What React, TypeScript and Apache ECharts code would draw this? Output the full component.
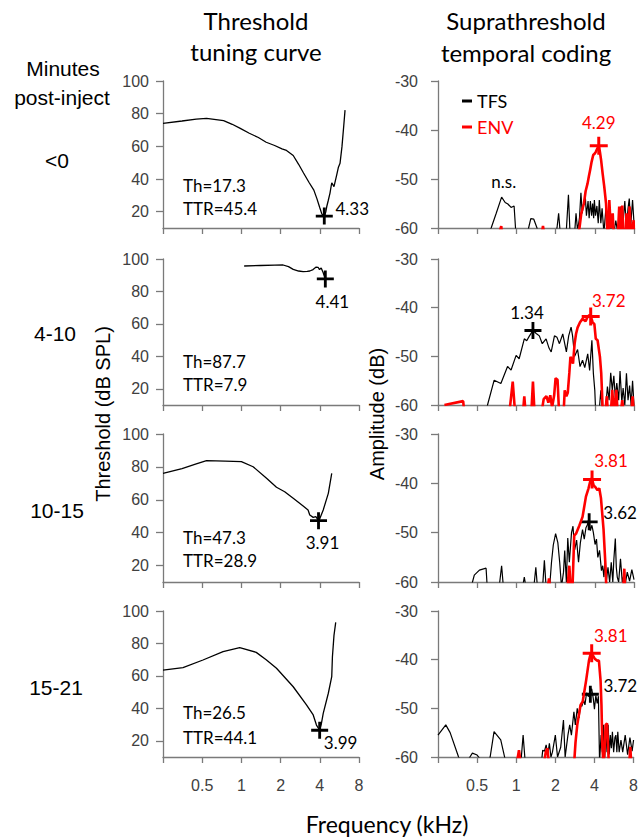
import React, { useEffect, useRef } from "react";
import * as echarts from "echarts";

// ---------- data ----------
const rowLabels = ["<0", "4-10", "10-15", "15-21"];
const thText = ["Th=17.3", "Th=87.7", "Th=47.3", "Th=26.5"];
const ttrText = ["TTR=45.4", "TTR=7.9", "TTR=28.9", "TTR=44.1"];

// threshold tuning curves [kHz, dB SPL]
const thr0 = [[0.25,74],[0.35,75.5],[0.45,76.7],[0.54,77.1],[0.73,75.7],[0.85,73.5],[0.98,71],[1.15,68],[1.35,65.4],[1.55,62.5],[1.8,60.5],[2.05,58.5],[2.22,57.5],[2.5,54.4],[2.75,49],[3.0,43.7],[3.3,38],[3.6,33.2],[3.8,28],[4.0,22.4],[4.15,18.5],[4.33,17.3],[4.45,20],[4.52,23],[4.65,27],[4.79,31.4],[4.94,37.7],[5.14,35.3],[5.39,42.4],[5.55,47],[5.72,49.6],[5.92,59.8],[6.1,72],[6.25,82.2]];
const thr1 = [[1.05,95.7],[1.4,96],[1.8,96.2],[2.09,96.3],[2.3,95.3],[2.5,93.6],[2.75,92.6],[2.98,92.2],[3.2,92.4],[3.35,92.6],[3.55,93.5],[3.75,95],[3.88,94.9],[3.98,93.5],[4.1,94.5],[4.25,91.5],[4.41,87.7]];
const thr2 = [[0.25,76.1],[0.35,79],[0.45,81.8],[0.54,83.8],[0.75,83.5],[1.0,83.2],[1.23,80.1],[1.56,73.1],[1.86,67.6],[2.15,64.9],[2.5,60.9],[2.98,56.2],[3.25,53.8],[3.35,50.7],[3.56,49.3],[3.73,49.7],[3.91,47.3],[4.01,48.7],[4.25,53.8],[4.65,63.9],[4.94,76.1]];
const thr3 = [[0.25,63.6],[0.356,65.1],[0.507,69.8],[0.723,74.9],[0.971,77.4],[1.3,74.5],[1.55,70],[1.86,64.7],[2.5,53.3],[3.16,42.1],[3.56,35.9],[3.77,29.7],[3.99,26.5],[4.1,30],[4.25,36.9],[4.65,49.3],[4.94,59.5],[5.0,71.8],[5.14,85],[5.3,93]];
const thresholdCurves = [thr0, thr1, thr2, thr3];
const cfMarkers = [[4.33,17.3],[4.41,87.7],[3.91,47.3],[3.99,26.5]];
const cfLabels = ["4.33", "4.41", "3.91", "3.99"];

// suprathreshold temporal coding [kHz, dB]
const tfs0 = [[0.55,-63],[0.64,-60],[0.7,-57],[0.77,-53.7],[0.82,-54.8],[0.86,-55.1],[0.91,-55.8],[0.96,-55.5],[0.99,-61],[1.2,-62],[1.24,-60],[1.29,-58.1],[1.36,-58.2],[1.44,-60],[1.48,-63],[1.9,-63],[2.05,-60],[2.11,-57],[2.17,-61],[2.4,-62],[2.51,-53.2],[2.58,-61],[2.8,-61],[2.87,-57],[2.95,-60.5],[3.05,-58],[3.13,-52.8],[3.2,-57],[3.28,-55],[3.38,-53.5],[3.45,-57.5],[3.55,-54.5],[3.62,-58],[3.7,-54.5],[3.78,-57.5],[3.85,-55],[3.92,-58],[3.97,-54.3],[4.05,-57.5],[4.15,-55.5],[4.25,-59],[4.33,-54.3],[4.45,-59],[4.55,-56],[4.7,-61],[4.88,-55.6],[5.0,-61],[5.15,-59],[5.3,-61],[5.49,-57.5],[5.6,-61],[5.8,-58.5],[6.0,-61],[6.2,-58],[6.36,-55.6],[6.55,-60],[6.8,-54.5],[7.0,-60],[7.2,-56],[7.36,-54],[7.55,-59.5],[7.8,-54.3],[8.0,-59]];
const env0 = [[0.72,-62],[0.765,-59.6],[0.78,-62],[1.55,-62],[1.6,-59.6],[1.65,-62],[2.95,-62],[3.05,-60],[3.15,-57],[3.3,-55],[3.4,-52.5],[3.52,-50.9],[3.6,-49.5],[3.68,-48.2],[3.78,-46.5],[3.89,-45.1],[4.0,-44.8],[4.08,-44.4],[4.18,-43.8],[4.29,-43.2],[4.38,-44.5],[4.47,-46.1],[4.6,-49],[4.73,-51.6],[4.88,-55],[4.99,-60.5],[5.08,-62],[5.17,-54.3],[5.3,-60],[5.49,-57],[5.6,-62],[6.0,-62],[6.16,-55.6],[6.3,-62],[6.5,-55.4],[6.6,-61],[6.85,-62],[7.0,-57],[7.15,-62],[7.4,-55.6],[7.6,-62],[7.95,-58.4],[8.0,-62]];
const tfs1 = [[0.58,-62],[0.6,-60],[0.675,-54.9],[0.76,-55.6],[0.855,-52.1],[0.91,-52.8],[0.995,-49.8],[1.05,-50.5],[1.15,-46.4],[1.2,-46.8],[1.26,-45.8],[1.34,-44.7],[1.42,-45.3],[1.5,-45.8],[1.58,-47.4],[1.69,-46.4],[1.78,-48.3],[1.85,-49.1],[1.96,-45.8],[2.05,-46.1],[2.14,-47.4],[2.27,-45.4],[2.42,-49.1],[2.52,-45.8],[2.63,-44],[2.7,-45.8],[2.8,-50],[2.95,-48.6],[3.08,-52.1],[3.22,-50.8],[3.35,-52.3],[3.53,-49.5],[3.65,-52.9],[3.8,-46.7],[3.9,-53.5],[4.0,-57],[4.07,-62],[4.3,-62],[4.45,-57],[4.6,-62],[4.8,-62],[5.0,-56.2],[5.15,-59],[5.3,-53.4],[5.45,-57],[5.6,-54],[5.75,-58.5],[5.9,-55.5],[6.1,-59],[6.25,-53],[6.45,-59.5],[6.6,-56.5],[6.8,-60],[7.0,-53.5],[7.2,-59],[7.4,-56],[7.6,-60],[7.8,-55],[8.0,-60]];
const env1 = [[0.28,-60],[0.39,-59.2],[0.4,-62],[0.88,-62],[0.937,-55.2],[0.98,-62],[1.12,-62],[1.15,-58.2],[1.18,-62],[1.3,-62],[1.34,-55.2],[1.38,-62],[1.55,-62],[1.62,-58.8],[1.7,-58.2],[1.76,-59.5],[1.82,-58],[1.88,-60.5],[1.95,-58],[2.0,-54.5],[2.07,-54.8],[2.13,-62],[2.3,-62],[2.35,-57],[2.42,-58.2],[2.48,-57.5],[2.55,-53.4],[2.6,-50.1],[2.72,-51.5],[2.8,-47.4],[2.87,-45.4],[2.95,-44.1],[3.08,-43],[3.22,-42.3],[3.4,-42.8],[3.5,-42],[3.63,-41.5],[3.72,-41.8],[3.85,-43],[3.97,-43.4],[4.07,-46.4],[4.2,-46.7],[4.38,-50.1],[4.48,-53.4],[4.6,-61],[4.8,-62],[4.95,-58.2],[5.05,-62],[5.3,-62],[5.45,-56.9],[5.6,-62],[5.85,-56.9],[6.0,-62],[6.3,-62],[6.5,-59],[6.7,-62],[7.6,-62],[7.8,-58.2],[8.0,-62]];
const tfs2 = [[0.44,-63],[0.46,-60],[0.475,-58.6],[0.52,-57.6],[0.585,-57.2],[0.6,-62],[0.73,-62],[0.77,-56.7],[0.8,-62],[1.1,-62],[1.15,-59],[1.2,-62],[1.35,-62],[1.41,-57],[1.46,-62],[1.58,-62],[1.64,-55.6],[1.7,-62],[1.8,-61],[1.86,-56],[1.92,-52.5],[2.0,-50.2],[2.08,-52],[2.15,-56],[2.22,-61],[2.3,-58],[2.35,-53.6],[2.42,-60],[2.48,-51.1],[2.55,-56],[2.65,-50],[2.72,-48.7],[2.8,-53.5],[2.9,-51.5],[3.0,-56],[3.1,-52],[3.22,-49.4],[3.32,-51.3],[3.42,-49],[3.5,-48.5],[3.58,-47.4],[3.62,-47.8],[3.7,-49.6],[3.8,-48.5],[3.9,-50],[4.02,-52.4],[4.12,-51.3],[4.22,-55],[4.35,-53.6],[4.5,-57.7],[4.6,-56.7],[4.7,-59],[4.8,-55.6],[4.92,-59.6],[5.05,-57],[5.2,-60],[5.35,-56],[5.5,-60],[5.6,-55.5],[5.75,-51.2],[5.85,-57],[5.95,-59],[6.1,-60],[6.3,-55.3],[6.5,-60],[6.7,-58.5],[6.9,-60],[7.1,-58],[7.4,-59.8],[7.7,-57.5],[8.0,-59.5]];
const env2 = [[1.72,-62],[1.78,-59.3],[1.84,-62],[2.45,-62],[2.55,-56.7],[2.62,-62],[2.69,-62],[2.78,-50.6],[2.87,-50.2],[3.04,-48.6],[3.22,-46.8],[3.42,-42.7],[3.58,-41],[3.74,-39],[3.81,-39.2],[3.92,-40.4],[4.02,-40.7],[4.2,-41.4],[4.33,-41],[4.46,-43],[4.67,-49.4],[4.82,-56.2],[4.92,-62],[6.6,-62],[6.74,-57.3],[6.85,-62]];
const tfs3 = [[0.25,-55.5],[0.287,-53.4],[0.31,-55],[0.36,-60],[0.4,-62],[0.44,-60],[0.46,-59.2],[0.5,-59.6],[0.53,-60.5],[0.6,-62],[0.63,-60],[0.675,-54.8],[0.76,-56.5],[0.83,-61],[1.08,-62],[1.13,-55.5],[1.18,-62],[1.55,-62],[1.6,-58.6],[1.65,-58.8],[1.7,-57.5],[1.75,-59.5],[1.8,-57.2],[1.85,-60],[1.9,-59],[2.0,-55.5],[2.08,-60],[2.2,-58],[2.31,-52.4],[2.38,-60],[2.5,-55.5],[2.58,-53.4],[2.66,-55.5],[2.78,-50.7],[2.85,-53.4],[2.95,-50],[3.05,-52],[3.12,-49.3],[3.2,-49.6],[3.3,-48.3],[3.38,-49.3],[3.48,-46.8],[3.6,-47.6],[3.72,-46.5],[3.81,-46],[3.92,-48],[4.0,-50.2],[4.1,-47.4],[4.2,-49],[4.29,-47.5],[4.38,-61],[4.5,-55.5],[4.6,-59],[4.7,-53.4],[4.8,-60],[4.9,-54.8],[5.0,-59],[5.1,-53.4],[5.2,-59.5],[5.3,-55.5],[5.4,-58.2],[5.5,-54.8],[5.62,-59],[5.75,-56],[5.85,-55.5],[5.95,-59],[6.05,-54.8],[6.2,-59],[6.4,-56.5],[6.6,-59],[6.9,-55.5],[7.2,-59.5],[7.5,-56],[7.8,-58.8],[8.0,-56.5]];
const env3 = [[1.0,-62],[1.05,-58.6],[1.09,-62],[1.62,-62],[1.69,-58.9],[1.74,-58.2],[1.79,-62],[2.78,-62],[2.86,-57],[2.95,-53.4],[3.05,-51],[3.13,-49.3],[3.25,-48.6],[3.45,-44.3],[3.63,-40.2],[3.74,-38.8],[3.81,-38.7],[4.02,-39.8],[4.2,-40.2],[4.33,-40.2],[4.46,-44.3],[4.53,-49.3],[4.6,-57.5],[4.7,-62],[4.8,-58],[4.88,-53.4],[5.0,-53.1],[5.1,-58],[5.17,-62],[7.4,-62],[7.55,-57.9],[7.7,-62]];
const tfsCurves = [tfs0, tfs1, tfs2, tfs3];
const envCurves = [env0, env1, env2, env3];
const tfsPeaks = [null, [1.34,-44.7], [3.62,-47.8], [3.72,-47.1]];
const tfsPeakLabels = ["", "1.34", "3.62", "3.72"];
const envPeaks = [[4.29,-43.2],[3.72,-41.8],[3.81,-39.2],[3.81,-38.7]];
const envPeakLabels = ["4.29", "3.72", "3.81", "3.81"];
const nsPoint = [[0.8, -50.6]];

const xTickLabels = [0.5, 1, 2, 4, 8];
const leftYTicks = [20, 40, 60, 80, 100];

// ---------- layout ----------
const TOPS = [81, 259, 434, 611];
const HEIGHTS = [147, 146, 148, 146];
const LEFT_X = 163;
const RIGHT_X = 438;
const PW = 196;
const cfLabelOffset = [[28, -8], [7, 23], [4, 22], [21, 12]];
const tfsLabelOffset = [[0, 0], [-6, -18], [31, -9], [30, -9]];
const envLabelOffset = [[0, -23], [18, -16], [19, -19], [19, -18]];

const PLUS = "path://M-9,-1.5H-1.5V-9H1.5V-1.5H9V1.5H1.5V9H-1.5V1.5H-9Z";
const AX = "#7a7a7a";
const TICKC = "#404040";
const ARIAL = "Liberation Sans, Arial, sans-serif";
const CAL = "Lato, Carlito, sans-serif";
const RED = "#ff0000";

function buildOption() {
  const grid: any[] = [];
  const xAxis: any[] = [];
  const yAxis: any[] = [];
  const series: any[] = [];
  for (let side = 0; side < 2; side++) {
    for (let r = 0; r < 4; r++) {
      const idx = side * 4 + r;
      grid.push({ left: side === 0 ? LEFT_X : RIGHT_X, top: TOPS[r], width: PW, height: HEIGHTS[r] });
      xAxis.push({
        type: "log", logBase: 2, min: 0.25, max: 8, gridIndex: idx,
        axisLine: { show: true, lineStyle: { color: AX, width: 1.3 } },
        axisTick: { show: true, length: 6, lineStyle: { color: AX, width: 1.3 } },
        axisLabel: {
          show: r === 3, margin: 20, color: TICKC, fontSize: 16, fontFamily: ARIAL,
          formatter: (v: number) => (xTickLabels.some((t) => Math.abs(t - v) < 1e-6) ? String(v) : ""),
        },
        splitLine: { show: false }, minorTick: { show: false },
      });
      if (side === 0) {
        yAxis.push({
          type: "value", min: 10, max: 100, gridIndex: idx,
          axisLine: { show: true, lineStyle: { color: AX, width: 1.3 } },
          axisTick: { show: true, length: 7, customValues: leftYTicks, lineStyle: { color: AX, width: 1.3 } },
          axisLabel: { customValues: leftYTicks, margin: 14, color: TICKC, fontSize: 16, fontFamily: ARIAL },
          splitLine: { show: false },
        });
      } else {
        yAxis.push({
          type: "value", min: -60, max: -30, interval: 10, gridIndex: idx,
          axisLine: { show: true, lineStyle: { color: AX, width: 1.3 } },
          axisTick: { show: true, length: 7, lineStyle: { color: AX, width: 1.3 } },
          axisLabel: { margin: 20, color: TICKC, fontSize: 16, fontFamily: ARIAL },
          splitLine: { show: false },
        });
      }
    }
  }
  const lbl = (text: string, off: number[], color: string) => ({
    show: true, position: "inside", offset: off, formatter: text, color,
    fontSize: 17, fontFamily: CAL, textBorderWidth: 0, textBorderColor: "transparent",
  });
  for (let r = 0; r < 4; r++) {
    // threshold tuning curve
    series.push({
      type: "line", xAxisIndex: r, yAxisIndex: r, data: thresholdCurves[r],
      showSymbol: false, lineStyle: { color: "#000", width: 1.3 }, silent: true,
    });
    series.push({
      type: "scatter", xAxisIndex: r, yAxisIndex: r, data: [cfMarkers[r]],
      symbol: PLUS, symbolSize: [17, 17], itemStyle: { color: "#000", opacity: 1 },
      label: lbl(cfLabels[r], cfLabelOffset[r], "#000"), silent: true,
    });
    // temporal coding
    const ri = 4 + r;
    series.push({
      name: "TFS", type: "line", xAxisIndex: ri, yAxisIndex: ri, data: tfsCurves[r],
      showSymbol: false, color: "#000", lineStyle: { color: "#000", width: 1.2 }, silent: true,
    });
    series.push({
      name: "ENV", type: "line", xAxisIndex: ri, yAxisIndex: ri, data: envCurves[r],
      showSymbol: false, color: RED, lineStyle: { color: RED, width: 2.6 }, silent: true,
    });
    if (tfsPeaks[r]) {
      series.push({
        type: "scatter", xAxisIndex: ri, yAxisIndex: ri, data: [tfsPeaks[r]],
        symbol: PLUS, symbolSize: [17, 17], itemStyle: { color: "#000", opacity: 1 },
        label: lbl(tfsPeakLabels[r], tfsLabelOffset[r], "#000"), silent: true,
      });
    }
    series.push({
      type: "scatter", xAxisIndex: ri, yAxisIndex: ri, data: [envPeaks[r]],
      symbol: PLUS, symbolSize: [18, 18], itemStyle: { color: RED, opacity: 1 },
      label: lbl(envPeakLabels[r], envLabelOffset[r], RED), silent: true,
    });
  }
  series.push({
    type: "scatter", xAxisIndex: 4, yAxisIndex: 4, data: nsPoint, symbolSize: 0,
    itemStyle: { opacity: 1 },
    label: { show: true, position: "inside", formatter: "n.s.", color: "#000", fontSize: 17, fontFamily: CAL, textBorderWidth: 0 },
    silent: true,
  });

  const graphic: any[] = [];
  const txt = (text: string, x: number, y: number, size: number, family: string, align = "center", rotation = 0, color = "#000") => ({
    type: "text", x, y, rotation, silent: true,
    style: { text, fill: color, fontSize: size, fontFamily: family, textAlign: align, textVerticalAlign: "middle" },
  });
  graphic.push(txt("Threshold", 256, 20, 24, CAL));
  graphic.push(txt("tuning curve", 256, 51, 24, CAL));
  graphic.push(txt("Suprathreshold", 526, 20, 24, CAL));
  graphic.push(txt("temporal coding", 526, 52, 24, CAL));
  graphic.push(txt("Minutes", 63, 68, 21, ARIAL));
  graphic.push(txt("post-inject", 62, 97, 21, ARIAL));
  const rowY = [160, 333, 510, 687];
  const rowX = [57, 55, 57, 56];
  const thOff = [[104, 127], [102, 125], [103, 126], [101, 126]];
  for (let r = 0; r < 4; r++) {
    graphic.push(txt(rowLabels[r], rowX[r], rowY[r], 21, ARIAL));
    graphic.push(txt(thText[r], 183, TOPS[r] + thOff[r][0], 17, CAL, "left"));
    graphic.push(txt(ttrText[r], 183, TOPS[r] + thOff[r][1], 17, CAL, "left"));
  }
  graphic.push(txt("Threshold (dB SPL)", 103, 414, 20, ARIAL, "center", Math.PI / 2));
  graphic.push(txt("Amplitude (dB)", 377, 414, 20, ARIAL, "center", Math.PI / 2));
  graphic.push(txt("Frequency (kHz)", 387, 824, 23, CAL));

  return {
    animation: false,
    backgroundColor: "#fff",
    grid, xAxis, yAxis, series, graphic,
    legend: {
      left: 457, top: 86, orient: "vertical", icon: "rect", itemWidth: 10, itemHeight: 3,
      itemGap: 6, selectedMode: false,
      data: [
        { name: "TFS", textStyle: { color: "#000" } },
        { name: "ENV", textStyle: { color: RED } },
      ],
      textStyle: { fontSize: 18, fontFamily: CAL, lineHeight: 20 },
    },
  };
}

export default function App() {
  const ref = useRef<HTMLDivElement>(null);
  useEffect(() => {
    if (!ref.current) return;
    const chart = echarts.init(ref.current, undefined, { renderer: "svg" });
    chart.setOption(buildOption() as any);
    return () => chart.dispose();
  }, []);
  return <div ref={ref} style={{ position: "fixed", left: 0, top: 0, width: 641, height: 838 }} />;
}
